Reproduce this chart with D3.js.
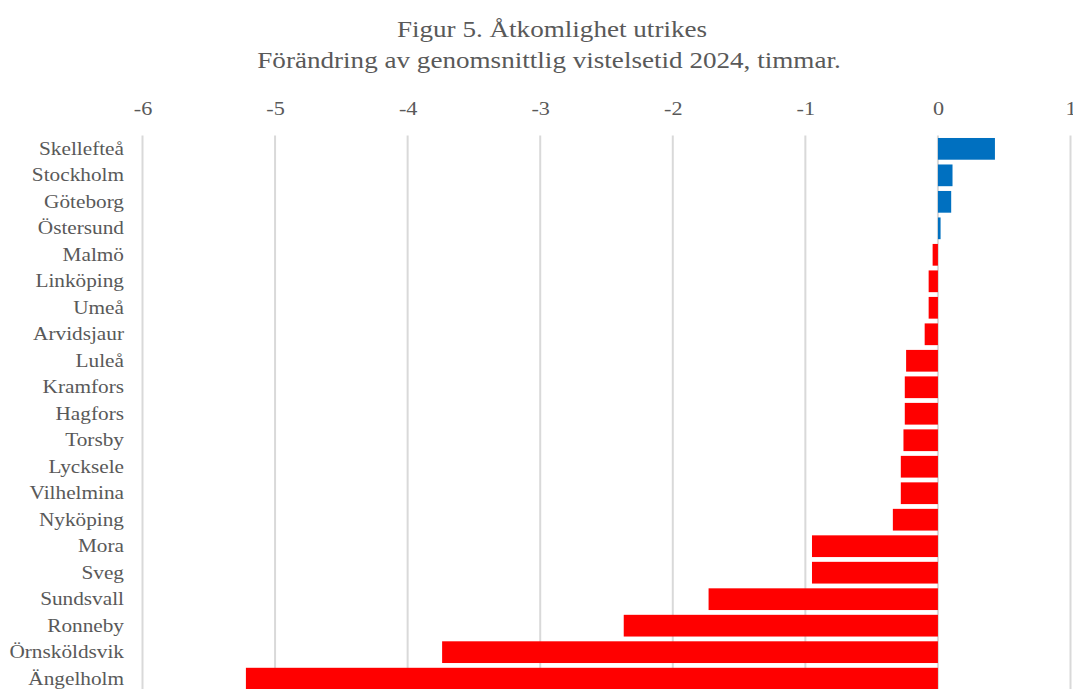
<!DOCTYPE html>
<html>
<head>
<meta charset="utf-8">
<script src="https://cdn.jsdelivr.net/npm/d3@7"></script>
<style>
  body { margin: 0; background: #fff; }
  text { font-family: "Liberation Serif", "Times New Roman", serif; fill: #595959; }
</style>
</head>
<body>
<svg id="chart"></svg>
<script>
const cities = ["Skellefteå", "Stockholm", "Göteborg", "Östersund", "Malmö", "Linköping", "Umeå",
    "Arvidsjaur", "Luleå", "Kramfors", "Hagfors", "Torsby", "Lycksele", "Vilhelmina", "Nyköping",
    "Mora", "Sveg", "Sundsvall", "Ronneby", "Örnsköldsvik", "Ängelholm"];
const changes = [0.43, 0.11, 0.10, 0.02, -0.04, -0.07, -0.07, -0.10, -0.24, -0.25, -0.25, -0.26,
    -0.28, -0.28, -0.34, -0.95, -0.95, -1.73, -2.37, -3.74, -5.22];
const xTicks = [-6, -5, -4, -3, -2, -1, 0, 1];
const titleLines = ["Figur 5. Åtkomlighet utrikes", "Förändring av genomsnittlig vistelsetid 2024, timmar."];

const data = cities.map((c, i) => ({city: c, value: changes[i]}));

const width = 1073, height = 689;
const margin = {top: 135.6, left: 142.5, right: 2.5};
const plotH = 556.3;
// the source text is a bit wider than Liberation Serif
const stretch = 'scale(1.17,1)';

const svg = d3.select('#chart')
    .attr('width', width)
    .attr('height', height);

// title
svg.append('g').selectAll('g')
    .data(titleLines)
    .join('g')
    .attr('transform', (d, i) => `translate(${552 - i * 3},${36.5 + i * 31.8})`)
    .append('text')
    .attr('text-anchor', 'middle')
    .attr('transform', 'scale(1.13,1)')
    .style('font-size', '24px')
    .text(d => d);

const x = d3.scaleLinear()
    .domain([-6, 1])
    .range([margin.left, width - margin.right]);

const y = d3.scaleBand()
    .domain(cities)
    .range([margin.top, margin.top + plotH])
    .paddingInner(0.18)
    .paddingOuter(0.09);

// gridlines
svg.append('g').selectAll('line')
    .data(xTicks)
    .join('line')
    .attr('x1', d => x(d))
    .attr('x2', d => x(d))
    .attr('y1', margin.top)
    .attr('y2', margin.top + plotH)
    .attr('stroke', '#d9d9d9')
    .attr('stroke-width', 2);

// top axis labels
const xAxis = d3.axisTop(x).tickValues(xTicks).tickSize(0).tickPadding(0)
    .tickFormat(d => d < 0 ? '-' + Math.abs(d) : d);
const xAxisG = svg.append('g')
    .attr('transform', 'translate(0,115)')
    .call(xAxis);
xAxisG.select('.domain').remove();
xAxisG.selectAll('text')
    .attr('dy', 0)
    .attr('transform', stretch)
    .style('font-size', '19px')
    .style('font-family', '"Liberation Serif", serif')
    .attr('fill', '#595959');

// bars
svg.append('g').selectAll('rect')
    .data(data)
    .join('rect')
    .attr('x', d => x(Math.min(0, d.value)))
    .attr('width', d => Math.abs(x(d.value) - x(0)))
    .attr('y', d => y(d.city))
    .attr('height', y.bandwidth())
    .attr('fill', d => d.value >= 0 ? '#0070c0' : '#ff0000');

// category labels
const yAxis = d3.axisLeft(y).tickSize(0).tickPadding(0);
const yAxisG = svg.append('g')
    .attr('transform', 'translate(124,0)')
    .call(yAxis);
yAxisG.select('.domain').remove();
yAxisG.selectAll('text')
    .attr('transform', 'scale(1.15,1)')
    .style('font-size', '18.5px')
    .style('font-family', '"Liberation Serif", serif')
    .attr('fill', '#595959');
</script>
</body>
</html>
